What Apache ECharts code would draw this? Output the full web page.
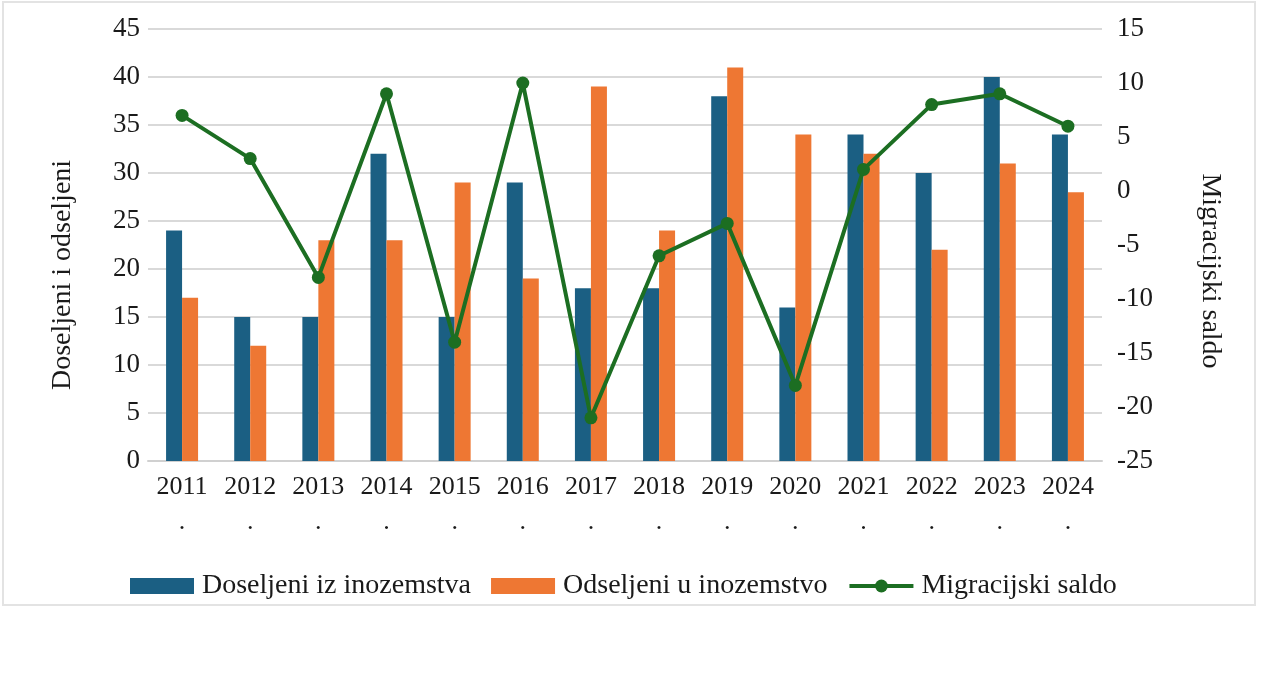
<!DOCTYPE html>
<html>
<head>
<meta charset="utf-8">
<script src="https://cdn.jsdelivr.net/npm/echarts@6/dist/echarts.min.js"></script>
<style>
html,body{margin:0;padding:0;background:#fff;}
#frame{position:absolute;left:2px;top:1px;width:1254px;height:605px;border:2px solid #e3e3e3;box-sizing:border-box;}
#chart{position:absolute;left:0;top:0;width:1281px;height:683px;}
</style>
</head>
<body>
<div id="frame"></div>
<div id="chart"></div>
<script>
const years = ['2011','2012','2013','2014','2015','2016','2017','2018','2019','2020','2021','2022','2023','2024'];
const doseljeni = [24,15,15,32,15,29,18,18,38,16,34,30,40,34];
const odseljeni = [17,12,23,23,29,19,39,24,41,34,32,22,31,28];
const saldo = [7,3,-8,9,-14,10,-21,-6,-3,-18,2,8,9,6];
const leftTicks = {min:0, max:45, interval:5};
const rightTicks = {min:-25, max:15, interval:5};

const font = 'Liberation Serif';
const txt = '#1a1a1a';
const chart = echarts.init(document.getElementById('chart'));
chart.setOption({
  animation:false,
  textStyle:{fontFamily:font},
  grid:{left:148, right:179, top:29, bottom:222, containLabel:false},
  legend:{
    left:125, top:567, itemWidth:64, itemHeight:16, itemGap:20,
    textStyle:{fontFamily:font, fontSize:28, color:txt, padding:[0,0,0,3]},
    lineStyle:{width:4},
    data:[
      {name:'Doseljeni iz inozemstva', icon:'rect'},
      {name:'Odseljeni u inozemstvo', icon:'rect'},
      {name:'Migracijski saldo'}
    ]
  },
  xAxis:{
    type:'category', data:years,
    axisLine:{lineStyle:{color:'#d0d0d0', width:2}},
    axisTick:{show:false},
    axisLabel:{fontFamily:font, fontSize:26, color:txt, margin:9, lineHeight:35,
      interval:0, formatter:v => v + '\n.'}
  },
  yAxis:[
    {type:'value', min:leftTicks.min, max:leftTicks.max, interval:leftTicks.interval,
     axisLine:{show:false}, axisTick:{show:false},
     axisLabel:{fontFamily:font, fontSize:27, color:txt, margin:8},
     splitLine:{lineStyle:{color:'#d9d9d9', width:2}}},
    {type:'value', min:rightTicks.min, max:rightTicks.max, interval:rightTicks.interval,
     position:'right',
     axisLine:{show:false}, axisTick:{show:false},
     axisLabel:{fontFamily:font, fontSize:27, color:txt, margin:15},
     splitLine:{show:false}}
  ],
  graphic:[
    {type:'text', x:63, y:275, rotation:Math.PI/2,
     style:{text:'Doseljeni i odseljeni', fontFamily:font, fontSize:28, fill:txt, align:'center', verticalAlign:'middle'}},
    {type:'text', x:1210, y:271, rotation:-Math.PI/2,
     style:{text:'Migracijski saldo', fontFamily:font, fontSize:28, fill:txt, align:'center', verticalAlign:'middle'}}
  ],
  series:[
    {name:'Doseljeni iz inozemstva', type:'bar', data:doseljeni, yAxisIndex:0,
     barWidth:16, barGap:'0%', itemStyle:{color:'#1b5f83'}},
    {name:'Odseljeni u inozemstvo', type:'bar', data:odseljeni, yAxisIndex:0,
     barWidth:16, barGap:'0%', itemStyle:{color:'#ee7733'}},
    {name:'Migracijski saldo', type:'line', data:saldo, yAxisIndex:1,
     symbol:'circle', symbolSize:13, z:5,
     lineStyle:{color:'#1c6e22', width:4}, itemStyle:{color:'#1c6e22'}}
  ]
});
</script>
</body>
</html>
